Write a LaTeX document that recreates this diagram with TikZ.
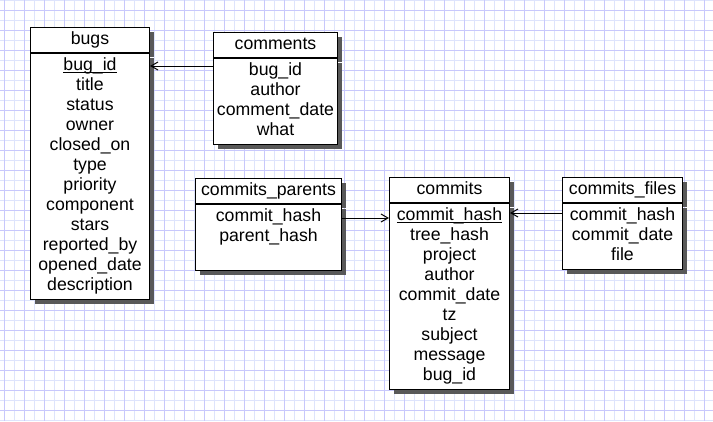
\documentclass[tikz,border=0pt]{standalone}
\usepackage{fontspec}
\setmainfont{Liberation Sans}
\usetikzlibrary{arrows.meta,positioning,shadows}
\definecolor{gridminor}{RGB}{222,228,252}
\definecolor{gridmajor}{RGB}{200,200,252}
\newcommand{\pkey}[1]{\setbox0\hbox{#1}\rlap{\rule[-2.5bp]{\wd0}{1bp}}\box0}

\begin{document}
\begin{tikzpicture}[x=1bp,y=-1bp,>={Straight Barb[length=7bp,width=8bp]},
  font=\fontsize{17.7bp}{20bp}\selectfont,
  tblbox/.style={draw,line width=1bp,fill=white,drop shadow={shadow xshift=4bp,shadow yshift=-4bp,fill=black!65,opacity=1}},
  hd/.style={tblbox,inner xsep=2bp,inner ysep=2.5bp,anchor=north west},
  flds/.style={tblbox,align=center,inner xsep=2bp,inner ysep=3bp,below=0pt of #1},
  fk/.style={->,line width=1bp}]
\useasboundingbox (0,0) rectangle (713,421);
% grid paper
\fill[white] (0,0) rectangle (713,421);
\foreach \x in {14,34,...,713} \draw[gridminor,line width=1bp] (\x,0) -- (\x,421);
\foreach \y in {0,20,...,421} \draw[gridminor,line width=1bp] (0,\y) -- (713,\y);
\foreach \x in {4,24,...,713} \draw[gridmajor,line width=1bp] (\x,0) -- (\x,421);
\foreach \y in {10,30,...,421} \draw[gridmajor,line width=1bp] (0,\y) -- (713,\y);
% tables
\node[hd,minimum width=119bp] (bugs) at (30,27) {\strut bugs};
\node[flds=bugs,minimum width=119bp] (bugs-f) {\strut\pkey{bug\_id}\\\strut title\\\strut status\\\strut owner\\\strut closed\_on\\\strut type\\\strut priority\\\strut component\\\strut stars\\\strut reported\_by\\\strut opened\_date\\\strut description};
\node[hd,minimum width=124bp] (comments) at (213,32) {\strut comments};
\node[flds=comments,minimum width=124bp] (comments-f) {\strut bug\_id\\\strut author\\\strut comment\_date\\\strut what};
\node[hd,minimum width=146bp] (parents) at (195,178) {\strut commits\_parents};
\node[flds=parents,minimum width=146bp] (parents-f) {\strut commit\_hash\\\strut parent\_hash\\\strut};
\node[hd,minimum width=120bp] (commits) at (389,177) {\strut commits};
\node[flds=commits,minimum width=120bp] (commits-f) {\strut\pkey{commit\_hash}\\\strut tree\_hash\\\strut project\\\strut author\\\strut commit\_date\\\strut tz\\\strut subject\\\strut message\\\strut bug\_id};
\node[hd,minimum width=120bp] (files) at (562,177) {\strut commits\_files};
\node[flds=files,minimum width=120bp] (files-f) {\strut commit\_hash\\\strut commit\_date\\\strut file};
% foreign keys
\coordinate (cm) at ([yshift=-8bp]comments-f.north west);
\coordinate (cp) at ([yshift=-14bp]parents-f.north east);
\coordinate (cf) at ([yshift=-10bp]files-f.north west);
\draw[fk] (cm) -- (cm -| bugs-f.east);
\draw[fk] (cp) -- (cp -| commits-f.west);
\draw[fk] (cf) -- (cf -| commits-f.east);
\end{tikzpicture}
\end{document}
